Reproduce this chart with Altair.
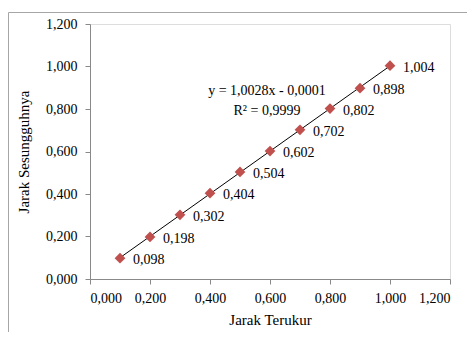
import altair as alt
import pandas as pd

# Data
jarak_terukur = [0.1, 0.2, 0.3, 0.4, 0.5, 0.6, 0.7, 0.8, 0.9, 1.0]
jarak_sesungguhnya = [0.098, 0.198, 0.302, 0.404, 0.504, 0.602, 0.702, 0.802, 0.898, 1.004]
point_labels = ["0,098", "0,198", "0,302", "0,404", "0,504", "0,602", "0,702", "0,802", "0,898", "1,004"]
tick_values = [0.0, 0.2, 0.4, 0.6, 0.8, 1.0, 1.2]
eq_lines = ["y = 1,0028x - 0,0001", "R\u00b2 = 0,9999"]
eq_x = [0.59, 0.59]
eq_y = [0.866, 0.772]

df = pd.DataFrame({"x": jarak_terukur, "y": jarak_sesungguhnya, "label": point_labels})
eq_df = pd.DataFrame({"x": eq_x, "y": eq_y, "text": eq_lines})

FONT = "Liberation Serif"
AXIS_GRAY = "#898989"
RED = "#C0504D"

lab_expr = "replace(format(datum.value, '.3f'), '.', ',')"

xscale = alt.Scale(domain=[0, 1.2], nice=False, zero=True)
yscale = alt.Scale(domain=[0, 1.2], nice=False, zero=True)

xaxis = alt.Axis(values=tick_values, labelExpr=lab_expr, title="Jarak Terukur", grid=False,
                 domainColor=AXIS_GRAY, tickColor=AXIS_GRAY, tickSize=5, labelPadding=7,
                 labelFont=FONT, labelFontSize=14, labelColor="black",
                 titleFont=FONT, titleFontSize=15, titleFontWeight="normal", titleColor="black",
                 titlePadding=7)
yaxis = alt.Axis(values=tick_values, labelExpr=lab_expr, title="Jarak Sesungguhnya", grid=False,
                 domainColor=AXIS_GRAY, tickColor=AXIS_GRAY, tickSize=5, labelPadding=8,
                 labelFont=FONT, labelFontSize=14, labelColor="black",
                 titleFont=FONT, titleFontSize=15, titleFontWeight="normal", titleColor="black",
                 titlePadding=14)

base = alt.Chart(df)

border = alt.Chart(pd.DataFrame({"d": [0]})).mark_rect(
    fill=None, stroke="#a6a6a6", strokeWidth=1
).encode(x=alt.value(-81.5), y=alt.value(-11.5), x2=alt.value(700), y2=alt.value(700))

trend = base.transform_regression("x", "y", extent=[0.1, 1.0]).mark_line(
    color="black", strokeWidth=1
).encode(x=alt.X("x:Q", scale=xscale, axis=xaxis), y=alt.Y("y:Q", scale=yscale, axis=yaxis))

points = base.mark_point(shape="diamond", filled=True, color=RED, size=115, opacity=1).encode(
    x=alt.X("x:Q", scale=xscale, axis=xaxis), y=alt.Y("y:Q", scale=yscale, axis=yaxis)
)

labels = base.mark_text(align="left", baseline="middle", dx=13, dy=2, font=FONT, fontSize=14,
                        color="black").encode(
    x=alt.X("x:Q", scale=xscale, axis=xaxis), y=alt.Y("y:Q", scale=yscale, axis=yaxis), text="label:N"
)

eq = alt.Chart(eq_df).mark_text(align="center", baseline="alphabetic", font=FONT, fontSize=14,
                               color="black").encode(
    x=alt.X("x:Q", scale=xscale, axis=xaxis), y=alt.Y("y:Q", scale=yscale, axis=yaxis), text="text:N"
)

chart = alt.layer(border, trend, points, labels, eq).properties(
    width=360, height=255,
    autosize=alt.AutoSizeParams(type="none"),
    padding={"left": 82, "top": 16, "right": 17, "bottom": 53},
).configure_view(stroke=None).configure(background="white")

chart.save("out.html", embed_options={"renderer": "svg", "actions": False})
